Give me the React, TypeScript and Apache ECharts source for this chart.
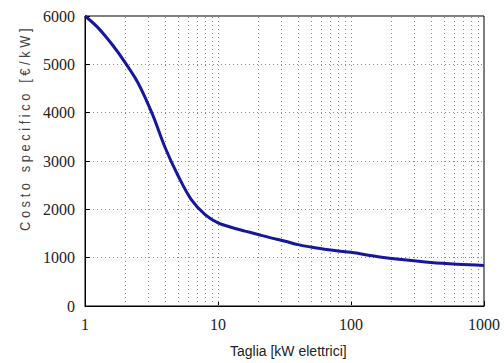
import React, { useEffect, useRef } from "react";
import * as echarts from "echarts";

const sizes = [1, 1.25, 1.6, 2, 2.5, 3.2, 4, 5, 6.3, 8, 10, 12.5, 16, 20, 25, 32, 40, 50, 63, 80, 100, 160, 250, 400, 630, 1000];
const costs = [6000, 5760, 5410, 5040, 4620, 3980, 3280, 2700, 2200, 1890, 1720, 1630, 1550, 1480, 1410, 1340, 1270, 1220, 1175, 1140, 1110, 1020, 955, 900, 865, 840];
const minorGridX = [2, 3, 4, 5, 6, 7, 8, 9, 10, 20, 30, 40, 50, 60, 70, 80, 90, 100, 200, 300, 400, 500, 600, 700, 800, 900];
const yTicks = [0, 1000, 2000, 3000, 4000, 5000, 6000];
const xTitle = "Taglia [kW elettrici]";
const yTitle = "C o s t o   s p e c i f i c o   [ € / k W ]";

export default function App() {
  const ref = useRef<HTMLDivElement>(null);
  useEffect(() => {
    if (!ref.current) return;
    const chart = echarts.init(ref.current, null, { renderer: "svg" });
    const dotted = { color: "#8a8a8a", width: 1, type: [1, 3] as any };
    const serif = "Liberation Serif";
    chart.setOption({
      animation: false,
      backgroundColor: "#ffffff",
      grid: {
        left: 85,
        right: 20,
        top: 16,
        bottom: 57,
        show: true,
        borderColor: "#000",
        borderWidth: 1,
        backgroundColor: "transparent",
      },
      xAxis: {
        type: "log",
        logBase: 10,
        min: 1,
        max: 1000,
        axisLine: { show: true, lineStyle: { color: "#000", width: 1 } },
        axisTick: { show: true, inside: true, length: 5, lineStyle: { color: "#000" } },
        splitLine: { show: false },
        axisLabel: {
          color: "#222",
          fontFamily: serif,
          fontSize: 16,
          margin: 10,
          formatter: (v: number) => String(v),
        },
      },
      yAxis: {
        type: "value",
        min: yTicks[0],
        max: yTicks[yTicks.length - 1],
        interval: 1000,
        axisLine: { show: true, lineStyle: { color: "#000", width: 1 } },
        axisTick: { show: true, inside: true, length: 5, lineStyle: { color: "#000" } },
        splitLine: { show: true, lineStyle: dotted },
        axisLabel: {
          color: "#222",
          fontFamily: serif,
          fontSize: 16,
          margin: 10,
          formatter: (v: number) => String(v),
        },
      },
      graphic: [
        {
          type: "text",
          x: 230,
          y: 344,
          style: {
            text: xTitle,
            font: "14px 'Liberation Sans'",
            fill: "#222",
            align: "left",
            verticalAlign: "top",
          },
        },
        {
          type: "text",
          x: 17,
          y: 231,
          rotation: Math.PI / 2,
          scaleX: 0.86,
          scaleY: 1,
          style: {
            text: yTitle,
            font: "15px 'Liberation Sans'",
            fill: "#444",
            align: "left",
            verticalAlign: "top",
          },
        },
      ],
      series: [
        {
          type: "line",
          data: sizes.map((s, i) => [s, costs[i]]),
          smooth: 0.35,
          showSymbol: false,
          symbol: "none",
          lineStyle: { color: "#16169e", width: 3 },
          z: 5,
          markLine: {
            silent: true,
            symbol: "none",
            label: { show: false },
            lineStyle: dotted,
            data: minorGridX.map((v) => ({ xAxis: v })),
          },
        },
      ],
    });
    return () => chart.dispose();
  }, []);
  return (
    <div
      ref={ref}
      style={{ position: "fixed", left: 0, top: 0, width: 504, height: 363 }}
    />
  );
}
